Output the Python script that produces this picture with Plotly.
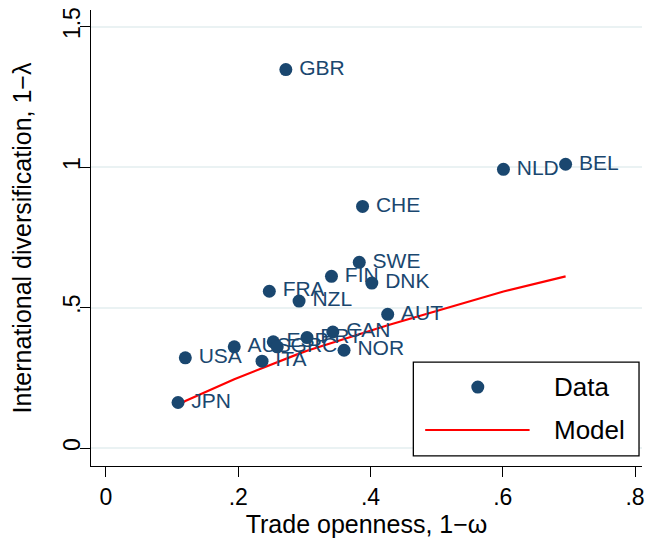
import plotly.graph_objects as go

countries = ["JPN", "USA", "AUS", "ITA", "FRA", "ESP", "GRC", "GBR", "NZL", "PRT",
             "FIN", "CAN", "NOR", "SWE", "CHE", "DNK", "AUT", "NLD", "BEL"]
trade_openness = [0.109, 0.120, 0.194, 0.236, 0.247, 0.253, 0.259, 0.272, 0.292, 0.304,
                  0.341, 0.343, 0.360, 0.383, 0.388, 0.402, 0.426, 0.601, 0.695]
diversification = [0.162, 0.321, 0.360, 0.309, 0.558, 0.378, 0.360, 1.347, 0.523, 0.393,
                   0.611, 0.413, 0.348, 0.661, 0.860, 0.587, 0.476, 0.992, 1.010]
model = [0.153, 0.167, 0.245, 0.285, 0.295, 0.301, 0.307, 0.318, 0.336, 0.346,
         0.374, 0.376, 0.389, 0.406, 0.410, 0.420, 0.437, 0.557, 0.611]

x_ticks = [0, 0.2, 0.4, 0.6, 0.8]
x_ticktext = ["0", ".2", ".4", ".6", ".8"]
y_ticks = [0, 0.5, 1, 1.5]
y_ticktext = ["0", ".5", "1", "1.5"]

NAVY = "#1a476f"
FONT = "Liberation Sans, Arial, sans-serif"

fig = go.Figure()
fig.add_trace(go.Scatter(
    x=trade_openness, y=model, mode="lines", name="Model",
    line=dict(color="red", width=2.2), showlegend=False, hoverinfo="skip"))
fig.add_trace(go.Scatter(
    x=trade_openness, y=diversification, mode="markers+text", name="Data",
    text=["\u2009" + c for c in countries], textposition="middle right",
    textfont=dict(color=NAVY, size=21, family=FONT),
    marker=dict(color=NAVY, size=13), showlegend=False))

# manual legend (paper coordinates)
fig.add_shape(type="rect", xref="paper", yref="paper",
              x0=0.585, x1=0.9946, y0=0.022, y1=0.228,
              line=dict(color="black", width=1.3), fillcolor="white", layer="above")
fig.add_shape(type="circle", xref="paper", yref="paper",
              xsizemode="pixel", ysizemode="pixel", xanchor=0.702, yanchor=0.173,
              x0=-6.5, x1=6.5, y0=-6.5, y1=6.5,
              line=dict(color=NAVY, width=0), fillcolor=NAVY, layer="above")
fig.add_shape(type="line", xref="paper", yref="paper",
              x0=0.6065, x1=0.796, y0=0.079, y1=0.079,
              line=dict(color="red", width=2.2), layer="above")
fig.add_annotation(xref="paper", yref="paper", x=0.8375, y=0.173, text="Data",
                   showarrow=False, xanchor="left", yanchor="middle",
                   font=dict(size=26, color="black", family=FONT))
fig.add_annotation(xref="paper", yref="paper", x=0.8375, y=0.079, text="Model",
                   showarrow=False, xanchor="left", yanchor="middle",
                   font=dict(size=26, color="black", family=FONT))

fig.update_layout(
    width=645, height=540,
    margin=dict(l=91, r=0, t=10, b=74),
    paper_bgcolor="white", plot_bgcolor="white",
    font=dict(family=FONT, color="black"),
    showlegend=False,
    xaxis=dict(
        range=[-0.0226, 0.8105], tickvals=x_ticks, ticktext=x_ticktext,
        showgrid=False, zeroline=False, showline=True, linecolor="black", linewidth=1.3,
        ticks="outside", ticklen=10, tickcolor="black", tickwidth=1.3,
        ticklabeloverflow="allow",
        tickfont=dict(size=23), title=dict(text="Trade openness, 1\u2212\u03c9",
                                            font=dict(size=25), standoff=4)),
    yaxis=dict(
        range=[-0.064, 1.559], tickvals=y_ticks, ticktext=y_ticktext, tickangle=-90,
        showgrid=True, gridcolor="#eaf2f3", gridwidth=1.5,
        zeroline=False, showline=True, linecolor="black", linewidth=1.3,
        ticks="outside", ticklen=10, tickcolor="black", tickwidth=1.3,
        ticklabelstandoff=-9,
        tickfont=dict(size=23), title=dict(text="International diversification, 1\u2212\u03bb",
                                            font=dict(size=25), standoff=19)),
)

fig.write_html("out.html", config={"displayModeBar": False},
               post_script="document.body.style.margin='0';")
